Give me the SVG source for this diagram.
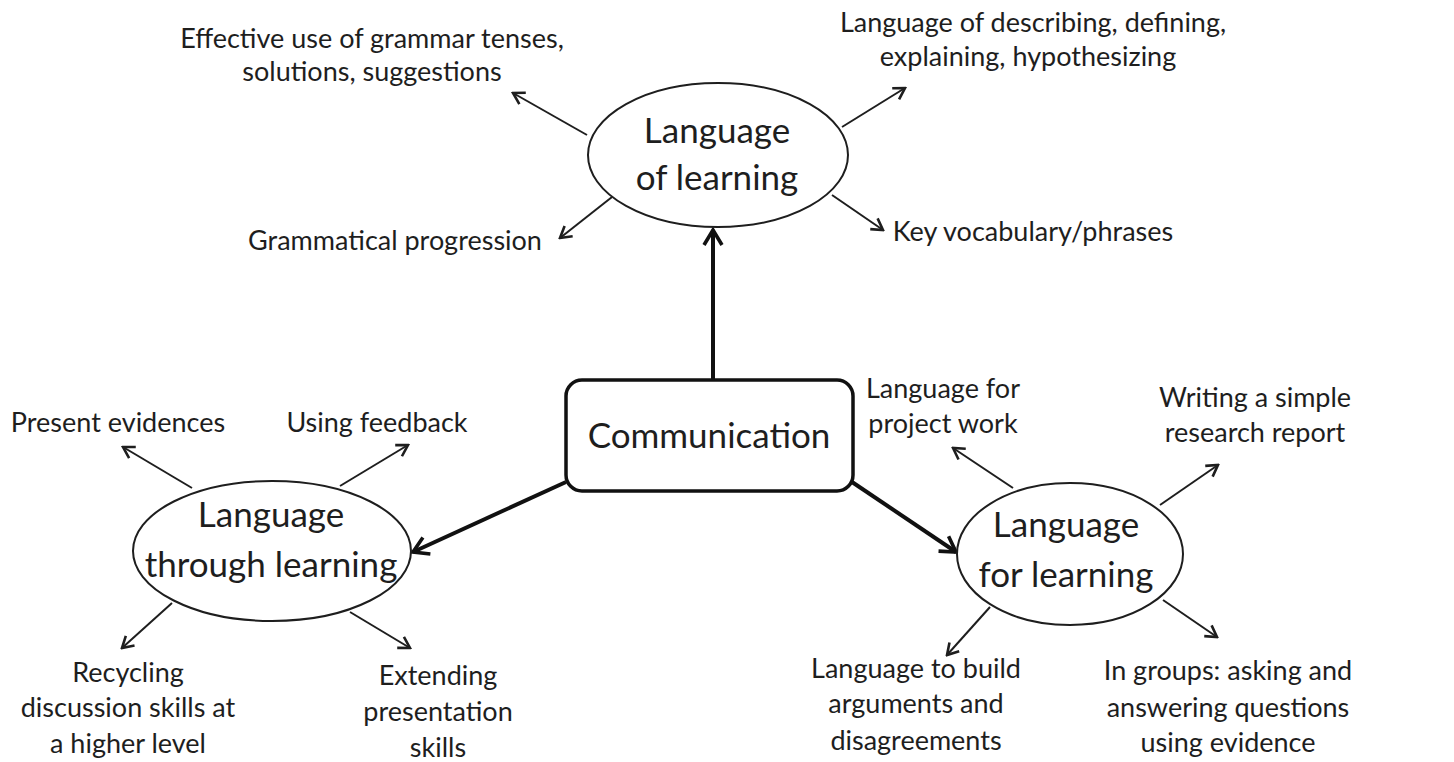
<svg xmlns="http://www.w3.org/2000/svg" width="1454" height="762" viewBox="0 0 1454 762">
<defs>
<style>
text{font-family:Lato,"Open Sans","Liberation Sans",sans-serif;fill:#1e1e1e;text-anchor:middle}
.lbl{font-size:27px}
.big{font-size:35px}
.ell{fill:#fff;stroke:#1e1e1e;stroke-width:2}
.thin{stroke:#1e1e1e;stroke-width:2;fill:none;marker-end:url(#ah)}
.thick{stroke:#111;stroke-width:4;fill:none;marker-end:url(#ahb)}
</style>
<marker id="ah" viewBox="0 0 16 16" refX="14" refY="8" markerWidth="16" markerHeight="16" markerUnits="userSpaceOnUse" orient="auto">
<path d="M3,1.5 L14,8 L3,14.5" fill="none" stroke="#1e1e1e" stroke-width="2.6" stroke-linejoin="miter"/>
</marker>
<marker id="ahb" viewBox="0 0 22 22" refX="19" refY="11" markerWidth="22" markerHeight="22" markerUnits="userSpaceOnUse" orient="auto">
<path d="M4,2 L19,11 L4,20" fill="none" stroke="#111" stroke-width="3.6"/>
</marker>
</defs>
<rect width="1454" height="762" fill="#fff"/>
<g id="connectors">
<line class="thick" x1="713" y1="380" x2="713" y2="230"/>
<line class="thick" x1="566" y1="482" x2="413" y2="552"/>
<line class="thick" x1="852" y1="482" x2="956" y2="552"/>
<line class="thin" x1="587" y1="135" x2="513" y2="93"/>
<line class="thin" x1="612" y1="197" x2="560" y2="238"/>
<line class="thin" x1="842" y1="127" x2="905" y2="88"/>
<line class="thin" x1="832" y1="195" x2="883" y2="230"/>
<line class="thin" x1="192" y1="488" x2="123" y2="447"/>
<line class="thin" x1="340" y1="486" x2="408" y2="445"/>
<line class="thin" x1="172" y1="603" x2="122" y2="648"/>
<line class="thin" x1="350" y1="612" x2="410" y2="648"/>
<line class="thin" x1="1013" y1="488" x2="953" y2="448"/>
<line class="thin" x1="1160" y1="505" x2="1218" y2="465"/>
<line class="thin" x1="990" y1="607" x2="947" y2="655"/>
<line class="thin" x1="1163" y1="600" x2="1217" y2="637"/>
</g>
<g id="communication">
<rect x="566" y="380" width="287" height="111" rx="16" ry="16" fill="#fff" stroke="#111" stroke-width="3.5"/>
<text class="big" x="709" y="448">Communication</text>
</g>
<g id="language-of-learning">
<ellipse class="ell" cx="718" cy="155" rx="130" ry="72"/>
<text class="big" x="717" y="143">Language</text>
<text class="big" x="717" y="190">of learning</text>
</g>
<g id="language-through-learning">
<ellipse class="ell" cx="272" cy="551" rx="139" ry="70"/>
<text class="big" x="271" y="527">Language</text>
<text class="big" x="271" y="577">through learning</text>
</g>
<g id="language-for-learning">
<ellipse class="ell" cx="1070" cy="554" rx="113" ry="71"/>
<text class="big" x="1066" y="537">Language</text>
<text class="big" x="1066" y="587">for learning</text>
</g>
<g id="effective-use">
<text class="lbl" x="372" y="48">Effective use of grammar tenses,</text>
<text class="lbl" x="372" y="81">solutions, suggestions</text>
</g>
<g id="grammatical-progression">
<text class="lbl" x="395" y="250">Grammatical progression</text>
</g>
<g id="describing">
<text class="lbl" x="1033" y="32">Language of describing, defining,</text>
<text class="lbl" x="1028" y="66">explaining, hypothesizing</text>
</g>
<g id="key-vocabulary">
<text class="lbl" x="1033" y="241">Key vocabulary/phrases</text>
</g>
<g id="present-evidences">
<text class="lbl" x="118" y="432">Present evidences</text>
</g>
<g id="using-feedback">
<text class="lbl" x="377" y="432">Using feedback</text>
</g>
<g id="recycling">
<text class="lbl" x="128" y="682">Recycling</text>
<text class="lbl" x="128" y="717">discussion skills at</text>
<text class="lbl" x="128" y="753">a higher level</text>
</g>
<g id="extending">
<text class="lbl" x="438" y="685">Extending</text>
<text class="lbl" x="438" y="721">presentation</text>
<text class="lbl" x="438" y="757">skills</text>
</g>
<g id="project-work">
<text class="lbl" x="943" y="398">Language for</text>
<text class="lbl" x="943" y="433">project work</text>
</g>
<g id="research-report">
<text class="lbl" x="1255" y="407">Writing a simple</text>
<text class="lbl" x="1255" y="442">research report</text>
</g>
<g id="arguments">
<text class="lbl" x="916" y="678">Language to build</text>
<text class="lbl" x="916" y="713">arguments and</text>
<text class="lbl" x="916" y="750">disagreements</text>
</g>
<g id="in-groups">
<text class="lbl" x="1228" y="680">In groups: asking and</text>
<text class="lbl" x="1228" y="717">answering questions</text>
<text class="lbl" x="1228" y="752">using evidence</text>
</g>
</svg>
